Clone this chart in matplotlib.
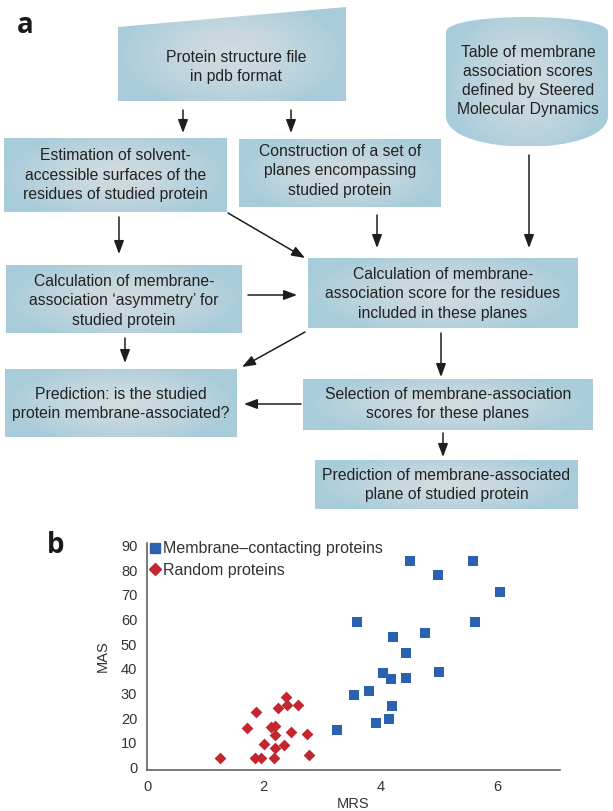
import numpy as np
import matplotlib
matplotlib.use("Agg")
import matplotlib.pyplot as plt
from matplotlib.patches import Polygon, PathPatch
from matplotlib.path import Path
from matplotlib.lines import Line2D

plt.rcParams["font.family"] = ["Liberation Sans", "DejaVu Sans"]

# panel b data
mrs_membrane = [3.26, 3.54, 3.81, 3.60, 3.92, 4.14, 4.20, 4.04, 4.18, 4.44,
                4.44, 4.21, 4.77, 5.01, 4.50, 4.99, 5.58, 5.62, 6.05]
mas_membrane = [15.2, 29.5, 30.9, 59.1, 17.9, 19.8, 24.8, 38.2, 36.0, 36.2,
                46.5, 52.8, 54.4, 38.8, 83.6, 78.2, 83.8, 59.1, 71.3]
mrs_random = [1.25, 1.85, 1.95, 2.18, 2.77, 2.01, 2.19, 2.35, 1.71, 2.12,
              2.20, 2.20, 2.47, 2.75, 1.87, 2.24, 2.40, 2.58, 2.38]
mas_random = [4.0, 4.0, 3.7, 3.7, 4.9, 9.4, 8.0, 9.1, 15.9, 16.5,
              16.8, 13.2, 14.3, 13.6, 22.4, 24.2, 25.3, 25.3, 28.7]
x_ticks = [0, 2, 4, 6]
y_ticks = list(range(0, 100, 10))

# panel a flowchart texts
txt_pdb = "Protein structure file\nin pdb format"
txt_table = "Table of membrane\nassociation scores\ndefined by Steered\nMolecular Dynamics"
txt_est = "Estimation of solvent-\naccessible surfaces of the\nresidues of studied protein"
txt_cons = "Construction of a set of\nplanes encompassing\nstudied protein"
txt_asym = "Calculation of membrane-\nassociation \u2018asymmetry\u2019 for\nstudied protein"
txt_score = "Calculation of membrane-\nassociation score for the residues\nincluded in these planes"
txt_pred = "Prediction: is the studied\nprotein membrane-associated?"
txt_sel = "Selection of membrane-association\nscores for these planes"
txt_plane = "Prediction of membrane-associated\nplane of studied protein"

EDGE = np.array([168, 204, 218]) / 255
CENTER = np.array([208, 219, 224]) / 255
TXT = "#222222"
FS = 11.3
LS = 1.36

W, H = 613, 811
fig = plt.figure(figsize=(W / 100, H / 100), dpi=100)
ax0 = fig.add_axes([0, 0, 1, 1])
ax0.set_axis_off()


def gradient_fill(patch, x0, x1, y0, y1):
    ax0.add_patch(patch)
    xx, yy = np.meshgrid(np.linspace(-1, 1, 240), np.linspace(-1, 1, 120))
    r = np.clip(np.sqrt(xx ** 2 + (yy * 0.8) ** 2), 0, 1) ** 1.5
    img = CENTER[None, None, :] * (1 - r[..., None]) + EDGE[None, None, :] * r[..., None]
    im = ax0.imshow(img, extent=(x0, x1, y1, y0), aspect="auto", zorder=1,
                    interpolation="bilinear")
    im.set_clip_path(patch)


def label(cx, cy, text):
    ax0.text(cx, cy, text, ha="center", va="center", fontsize=FS, color=TXT,
             linespacing=LS, zorder=3)


def box(x0, y0, x1, y1, text, cy):
    p = Polygon([(x0, y0), (x1, y0), (x1, y1), (x0, y1)], closed=True,
                facecolor="none", edgecolor="none", zorder=1)
    gradient_fill(p, x0, x1, y0, y1)
    label((x0 + x1) / 2, cy, text)


def arrow(p_from, p_to):
    ax0.annotate("", xy=p_to, xytext=p_from,
                 arrowprops=dict(arrowstyle="-|>,head_length=0.8,head_width=0.3",
                                 lw=1.1, color="#1e1e1e", mutation_scale=10,
                                 shrinkA=0, shrinkB=0), zorder=4)


# top input shape
top = Polygon([(118, 27), (346, 7), (346, 101), (118, 101)], closed=True,
              facecolor="none", edgecolor="none")
gradient_fill(top, 118, 346, 7, 101)
label(236, 67, txt_pdb)

# stored data shape
verts = [(446, 32), (446, 12), (608, 12), (608, 32), (608, 116),
         (608, 157), (446, 157), (446, 116), (446, 32)]
codes = [Path.MOVETO, Path.CURVE4, Path.CURVE4, Path.CURVE4, Path.LINETO,
         Path.CURVE4, Path.CURVE4, Path.CURVE4, Path.CLOSEPOLY]
cyl = PathPatch(Path(verts, codes), facecolor="none", edgecolor="none")
gradient_fill(cyl, 446, 608, 17, 146)
label(528, 81, txt_table)

box(4, 138, 227, 212, txt_est, 175)
box(239, 139, 441, 207, txt_cons, 171)
box(6, 265, 242, 333, txt_asym, 301)
box(308, 258, 578, 328, txt_score, 294)
box(5, 369, 237, 437, txt_pred, 404)
box(303, 379, 593, 430, txt_sel, 404)
box(315, 460, 578, 509, txt_plane, 485)

arrow((183, 110), (183, 133))
arrow((291, 110), (291, 133))
arrow((529, 155), (529, 248))
arrow((377, 215), (377, 248))
arrow((119, 217), (119, 254))
arrow((228, 213), (305, 258))
arrow((248, 295), (297, 295))
arrow((125, 338), (125, 363))
arrow((305, 332), (242, 367))
arrow((441, 333), (441, 377))
arrow((301, 404), (244, 404))
arrow((443, 433), (443, 457))

ax0.text(17, 33, "a", fontsize=20, fontweight="bold", family="Open Sans",
         color="#1a1a1a", va="baseline")
ax0.text(47, 553, "b", fontsize=20, fontweight="bold", family="Open Sans",
         color="#1a1a1a", va="baseline")

ax0.set_xlim(0, W)
ax0.set_ylim(H, 0)

# panel b scatter
ax = fig.add_axes([147 / W, (H - 770) / H, 413 / W, 227 / H])
ax.scatter(mrs_membrane, mas_membrane, marker="s", s=42, color="#2a62b0",
           linewidths=0, zorder=3)
ax.scatter(mrs_random, mas_random, marker="D", s=36, color="#c3262e",
           linewidths=0, zorder=3)
ax.set_xlim(0, 7.08)
ax.set_ylim(-1, 91)
ax.set_xticks(x_ticks)
ax.set_yticks(y_ticks)
ax.tick_params(length=0, labelsize=10.5, colors="#333333", pad=7)
for s in ["top", "right"]:
    ax.spines[s].set_visible(False)
for s in ["left", "bottom"]:
    ax.spines[s].set_color("#555555")
    ax.spines[s].set_linewidth(1.1)
ax.set_xlabel("MRS", fontsize=10.5, color="#333333", labelpad=2)
ax.set_ylabel("MAS", fontsize=10.5, color="#333333", labelpad=8)
ax.patch.set_alpha(0)

handles = [
    Line2D([], [], marker="s", ls="none", color="#2a62b0", markersize=6.5),
    Line2D([], [], marker="D", ls="none", color="#c3262e", markersize=6),
]
ax.legend(handles, ["Membrane\u2013contacting proteins", "Random proteins"],
          loc="upper left", bbox_to_anchor=(-0.008, 1.035), frameon=False,
          fontsize=11.5, handlelength=0.6, handletextpad=0.2,
          labelspacing=0.4, borderaxespad=0, labelcolor="#333333")

fig.savefig("out.png", dpi=100)
